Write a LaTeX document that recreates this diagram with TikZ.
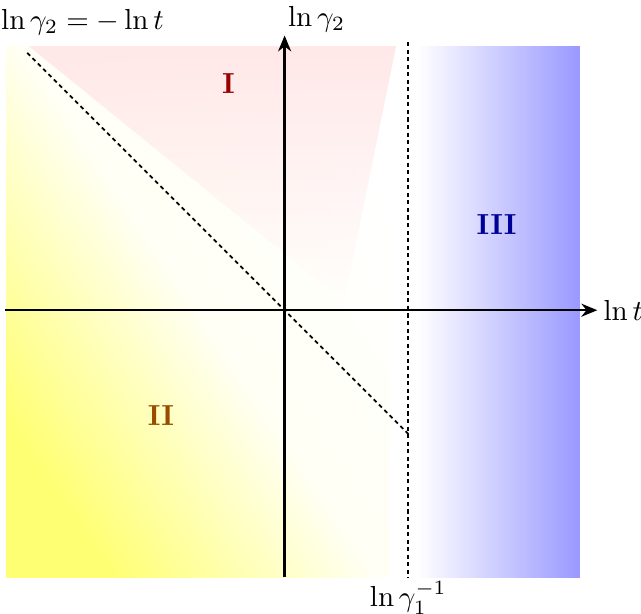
\documentclass[tikz,border=0pt]{standalone}
\usepackage{amsmath}
\usetikzlibrary{arrows.meta,positioning,fadings}

\begin{document}
\begin{tikzpicture}[
    axis/.style={thick,-{Stealth[length=5.5pt,width=4.5pt]}},
    guide/.style={semithick,dash pattern=on 1.4pt off 1.2pt},
    region/.style={font=\bfseries}]
    \useasboundingbox (-3.45,-3.68) rectangle (4.32,3.76);
    % shaded regions
    \shade[top color=white,bottom color=yellow!55,middle color=yellow!4,shading angle=-56]
      (-3.37,-3.24) rectangle (1.28,3.2);
    \fill[red!9,path fading=south]
      (-3.1,3.2) -- (1.35,3.2) -- (0.72,0.1) -- cycle;
    \shade[left color=white,right color=blue!40]
      (1.6,-3.24) rectangle (3.58,3.2);
    % axes
    \coordinate (xl) at (-3.39,0);
    \coordinate (xr) at (3.79,0);
    \coordinate (yb) at (0,-3.24);
    \coordinate (yt) at (0,3.33);
    \node[right,inner sep=2pt] (tlab) at (xr) {$\ln t$};
    \node[anchor=south west,inner sep=1pt] (glab) at (yt) {$\ln\gamma_2$};
    % boundaries
    \coordinate (dl) at (-3.12,3.12);
    \coordinate (dr) at (1.5,-1.5);
    \coordinate (ct) at (1.5,3.25);
    \coordinate (cb) at (1.5,-3.24);
    \node[below,inner sep=1pt] (clab) at (cb) {$\ln\gamma_1^{-1}$};
    \node (dlab) at (-2.45,3.49) {$\ln\gamma_2=-\ln t$};
    \draw[guide] (dl) -- (dr);
    \draw[guide] (ct) -- (cb);
    \draw[axis] (xl) -- (xr);
    \draw[axis] (yb) -- (yt);
    % regions
    \node[region,text=red!60!black] (r1) at (-0.68,2.75) {I};
    \node[region,text=orange!60!black] (r2) at (-1.5,-1.28) {II};
    \node[region,text=blue!60!black] (r3) at (2.57,1.04) {III};
\end{tikzpicture}
\end{document}
